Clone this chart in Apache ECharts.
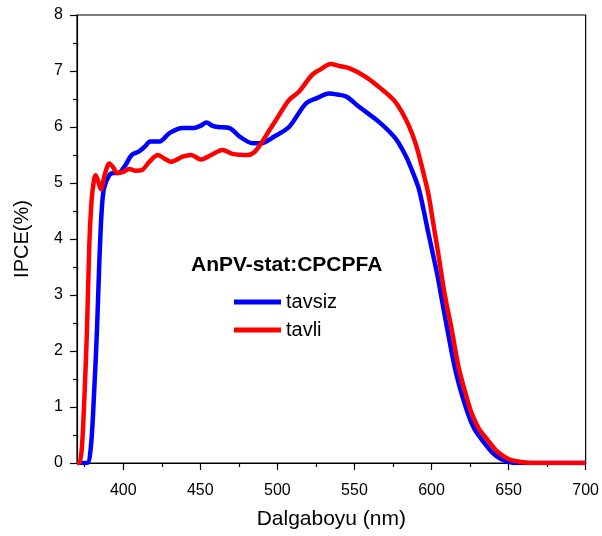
<!DOCTYPE html>
<html>
<head>
<meta charset="utf-8">
<title>IPCE</title>
<script src="https://cdn.jsdelivr.net/npm/echarts@6/dist/echarts.min.js"></script>
<style>
  html, body { margin: 0; padding: 0; background: #fff; }
  #chart { width: 602px; height: 536px; }
</style>
</head>
<body>
<div id="chart"></div>
<script>
// tavsiz (blue)
const wlTavsiz = [370, 376.5, 379, 381, 383, 384.5, 386, 387.5, 391, 394, 397, 401, 405.5, 410, 414, 417.5, 423.5, 430, 438.5, 445, 450, 454, 458, 461.5, 469, 475.5, 484, 489.5, 498, 507.5, 518.5, 526, 533.5, 539, 545, 553, 565.5, 576.5, 583, 587, 591.5, 595, 598, 603.5, 606.5, 609.5, 616, 623.5, 628, 634.5, 640, 645, 650, 655, 700]
const tavsiz = [0, 0, 0.29, 1.2, 2.4, 3.6, 4.5, 4.9, 5.14, 5.18, 5.18, 5.3, 5.5, 5.56, 5.65, 5.74, 5.74, 5.89, 5.98, 5.98, 6.02, 6.08, 6.02, 6.0, 5.98, 5.83, 5.71, 5.71, 5.83, 6.0, 6.42, 6.52, 6.6, 6.58, 6.54, 6.36, 6.1, 5.8, 5.5, 5.25, 4.92, 4.5, 4.1, 3.4, 2.95, 2.5, 1.6, 0.89, 0.6, 0.35, 0.17, 0.07, 0.02, 0, 0]

// tavli (red)
const wlTavli = [370, 371.5, 373.2, 375, 376.5, 378, 379.5, 381, 382, 383.5, 385.5, 388, 391, 393.5, 396, 400, 404, 408, 412, 417, 422.5, 427, 431, 438.5, 444, 450.5, 457, 464.5, 471, 480.5, 485, 489.5, 495, 499, 507.5, 514, 522.5, 528, 534.5, 540, 546.5, 557, 567, 576.5, 584, 589.5, 593.5, 598, 601, 604.5, 608.5, 613, 617.5, 622, 626, 631, 636.5, 642, 647.5, 652, 658, 665, 700]
const tavli = [0, 0, 0.29, 1.3, 2.4, 3.9, 4.7, 5.05, 5.14, 5.05, 4.89, 5.15, 5.35, 5.28, 5.18, 5.2, 5.25, 5.22, 5.23, 5.38, 5.5, 5.43, 5.38, 5.47, 5.5, 5.42, 5.5, 5.59, 5.52, 5.5, 5.55, 5.71, 5.95, 6.12, 6.48, 6.63, 6.93, 7.03, 7.125, 7.09, 7.05, 6.9, 6.69, 6.45, 6.1, 5.72, 5.32, 4.8, 4.3, 3.72, 3.02, 2.4, 1.72, 1.25, 0.89, 0.6, 0.41, 0.22, 0.11, 0.05, 0.02, 0, 0]

const xTicks = [400, 450, 500, 550, 600, 650, 700]
const xMinorTicks = [375, 425, 475, 525, 575, 625, 675]

const FONT = 'Liberation Sans, Arial, sans-serif'

function pairs(xs, ys) {
  return xs.map((x, i) => [x, ys[i]])
}

const chart = echarts.init(document.getElementById('chart'))

const option = {
  backgroundColor: '#fff',
  animation: false,
  title: {
    text: 'AnPV-stat:CPCPFA',
    left: 191,
    top: 255,
    padding: 0,
    textStyle: { fontFamily: FONT, fontSize: 21, fontWeight: 'bold', color: '#000' }
  },
  legend: {
    orient: 'vertical',
    left: 234,
    top: 292,
    padding: 0,
    itemWidth: 47,
    itemHeight: 5,
    itemGap: 8,
    icon: 'rect',
    textStyle: { fontFamily: FONT, fontSize: 20, color: '#000', lineHeight: 20 },
    data: ['tavsiz', 'tavli']
  },
  grid: {
    left: 77,
    right: 14,
    top: 15,
    bottom: 73,
    show: true,
    borderColor: '#000',
    borderWidth: 1.2,
    backgroundColor: 'transparent'
  },
  xAxis: [
    {
      type: 'value',
      min: 370,
      max: 700,
      name: 'Dalgaboyu (nm)',
      nameLocation: 'middle',
      nameGap: 46,
      nameTextStyle: { fontFamily: FONT, fontSize: 21, color: '#000' },
      axisLine: { lineStyle: { color: '#000', width: 1.2 } },
      axisTick: { customValues: xTicks, length: 7, lineStyle: { color: '#000', width: 1.2 } },
      axisLabel: { customValues: xTicks, margin: 20, fontFamily: FONT, fontSize: 16, color: '#000' },
      splitLine: { show: false }
    },
    {
      type: 'value',
      min: 370,
      max: 700,
      position: 'bottom',
      axisLine: { show: false },
      axisTick: { customValues: xMinorTicks, length: 4, lineStyle: { color: '#000', width: 1.2 } },
      axisLabel: { show: false },
      splitLine: { show: false }
    }
  ],
  yAxis: {
    type: 'value',
    min: 0,
    max: 8,
    interval: 1,
    name: 'IPCE(%)',
    nameLocation: 'middle',
    nameGap: 45,
    nameTextStyle: { fontFamily: FONT, fontSize: 20, color: '#000' },
    axisLine: { show: true, lineStyle: { color: '#000', width: 1.2 } },
    axisTick: { show: true, length: 7, lineStyle: { color: '#000', width: 1.2 } },
    minorTick: { show: true, splitNumber: 2, length: 4, lineStyle: { color: '#000', width: 1.2 } },
    axisLabel: { margin: 14, fontFamily: FONT, fontSize: 16, color: '#000' },
    splitLine: { show: false }
  },
  series: [
    {
      name: 'tavsiz',
      type: 'line',
      data: pairs(wlTavsiz, tavsiz),
      smooth: 0.3,
      showSymbol: false,
      color: '#0000ff',
      lineStyle: { width: 4.5, color: '#0000ff' }
    },
    {
      name: 'tavli',
      type: 'line',
      data: pairs(wlTavli, tavli),
      smooth: 0.3,
      showSymbol: false,
      color: '#ff0000',
      lineStyle: { width: 4.5, color: '#ff0000' }
    }
  ]
}

chart.setOption(option)
</script>
</body>
</html>
